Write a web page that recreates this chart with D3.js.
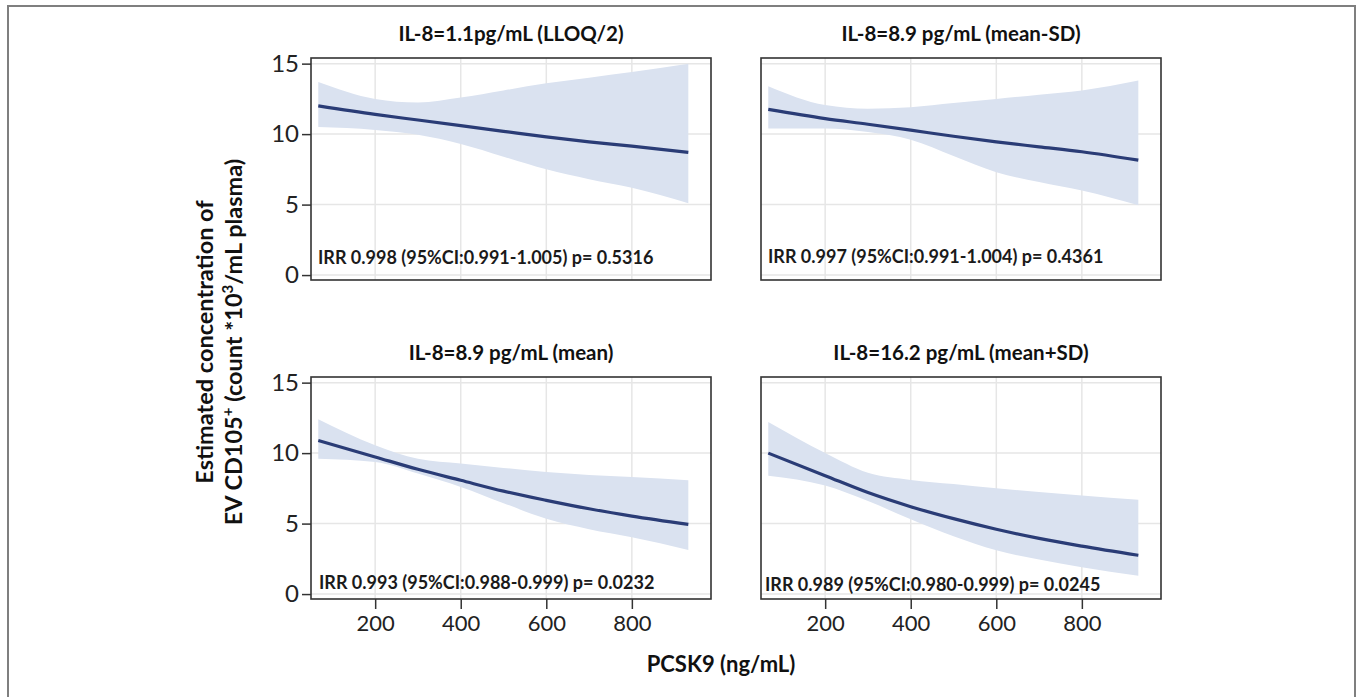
<!DOCTYPE html>
<html>
<head>
<meta charset="utf-8">
<script src="https://cdn.jsdelivr.net/npm/d3@7/dist/d3.min.js"></script>
<style>
  html, body { margin: 0; padding: 0; background: #fff; }
  svg { display: block; font-family: Lato, "Open Sans", sans-serif; }
</style>
</head>
<body>
<svg id="chart" width="1357" height="697"></svg>
<script>
// ---------------- DATA ----------------
const pcsk9 = [67, 200, 300, 400, 500, 600, 700, 800, 932];

const panelTitles = [
  "IL-8=1.1pg/mL (LLOQ/2)",
  "IL-8=8.9 pg/mL (mean-SD)",
  "IL-8=8.9 pg/mL (mean)",
  "IL-8=16.2 pg/mL (mean+SD)"
];

const estimateLLOQ   = [12.0, 11.4, 11.0, 10.6, 10.2, 9.8, 9.45, 9.15, 8.7];
const lowerLLOQ      = [10.5, 10.3, 9.95, 9.3, 8.4, 7.5, 6.8, 6.2, 5.1];
const upperLLOQ      = [13.7, 12.5, 12.25, 12.6, 13.1, 13.6, 14.0, 14.4, 15.0];

const estimateMeanMinusSD = [11.75, 11.1, 10.7, 10.28, 9.85, 9.45, 9.1, 8.75, 8.15];
const lowerMeanMinusSD    = [10.4, 10.4, 10.15, 9.6, 8.45, 7.3, 6.6, 6.0, 4.95];
const upperMeanMinusSD    = [13.4, 12.06, 11.8, 11.9, 12.2, 12.5, 12.8, 13.1, 13.8];

const estimateMean = [10.9, 9.73, 8.85, 8.07, 7.3, 6.65, 6.05, 5.53, 4.94];
const lowerMean    = [9.6, 9.37, 8.55, 7.6, 6.45, 5.34, 4.6, 4.03, 3.13];
const upperMean    = [12.4, 10.56, 9.6, 9.26, 8.95, 8.66, 8.45, 8.3, 8.07];

const estimateMeanPlusSD = [10.0, 8.4, 7.2, 6.2, 5.35, 4.6, 3.95, 3.4, 2.75];
const lowerMeanPlusSD    = [8.4, 7.7, 6.6, 5.3, 4.1, 3.1, 2.45, 1.9, 1.3];
const upperMeanPlusSD    = [12.2, 10.0, 8.6, 8.1, 7.8, 7.5, 7.25, 7.0, 6.7];

const annotations = [
  "IRR 0.998 (95%CI:0.991-1.005) p= 0.5316",
  "IRR 0.997 (95%CI:0.991-1.004) p= 0.4361",
  "IRR 0.993 (95%CI:0.988-0.999) p= 0.0232",
  "IRR 0.989 (95%CI:0.980-0.999) p= 0.0245"
];

const xTickValues = [200, 400, 600, 800];
const yTickValues = [0, 5, 10, 15];
const xAxisLabel = "PCSK9 (ng/mL)";
const yAxisLabel1 = "Estimated concentration of";
const yAxisLabel2Parts = ["EV CD105", "+", " (count *10", "3", "/mL plasma)"];

// ---------------- LAYOUT ----------------
const series = [
  {est: estimateLLOQ, lo: lowerLLOQ, hi: upperLLOQ},
  {est: estimateMeanMinusSD, lo: lowerMeanMinusSD, hi: upperMeanMinusSD},
  {est: estimateMean, lo: lowerMean, hi: upperMean},
  {est: estimateMeanPlusSD, lo: lowerMeanPlusSD, hi: upperMeanPlusSD}
];

const PW = 400, PH = 222;
const layout = [
  {left: 311, top: 58,  yAxis: true,  xAxis: false, annDx: 7, annDy: -16},
  {left: 761, top: 58,  yAxis: false, xAxis: false, annDx: 7, annDy: -17},
  {left: 311, top: 377, yAxis: true,  xAxis: true,  annDx: 8, annDy: -10},
  {left: 761, top: 377, yAxis: false, xAxis: true,  annDx: 4, annDy: -8}
];

const svg = d3.select("#chart");

// outer border
svg.append("rect")
  .attr("x", 8).attr("y", 6)
  .attr("width", 1347).attr("height", 720)
  .attr("fill", "none").attr("stroke", "#7f7f7f").attr("stroke-width", 2);

const x = d3.scaleLinear().domain([50, 985]).range([0, PW]);
const y = d3.scaleLinear().domain([-0.35, 15.4]).range([PH, 0]);

series.forEach((s, i) => {
  const L = layout[i];
  const g = svg.append("g").attr("transform", `translate(${L.left},${L.top})`);

  const clipId = "clip" + i;
  g.append("clipPath").attr("id", clipId)
    .append("rect").attr("width", PW).attr("height", PH);

  const inner = g.append("g").attr("clip-path", `url(#${clipId})`);

  // gridlines
  inner.selectAll("line.gx").data(xTickValues).join("line")
    .attr("x1", d => x(d)).attr("x2", d => x(d))
    .attr("y1", 0).attr("y2", PH)
    .attr("stroke", "#e6e6e6").attr("stroke-width", 1.5);
  inner.selectAll("line.gy").data(yTickValues).join("line")
    .attr("y1", d => y(d)).attr("y2", d => y(d))
    .attr("x1", 0).attr("x2", PW)
    .attr("stroke", "#e6e6e6").attr("stroke-width", 1.5);

  const pts = pcsk9.map((p, k) => ({x: p, est: s.est[k], lo: s.lo[k], hi: s.hi[k]}));

  const area = d3.area()
    .x(d => x(d.x)).y0(d => y(d.lo)).y1(d => y(d.hi))
    .curve(d3.curveMonotoneX);
  inner.append("path").datum(pts)
    .attr("d", area).attr("fill", "#dae2f0");

  const line = d3.line()
    .x(d => x(d.x)).y(d => y(d.est))
    .curve(d3.curveMonotoneX);
  inner.append("path").datum(pts)
    .attr("d", line).attr("fill", "none")
    .attr("stroke", "#2a3c76").attr("stroke-width", 3.2);

  // annotation
  g.append("text")
    .attr("x", L.annDx).attr("y", PH + L.annDy)
    .attr("font-size", 18).attr("font-weight", "bold").attr("fill", "#1a1a1a")
    .text(annotations[i]);

  // frame
  g.append("rect").attr("width", PW).attr("height", PH)
    .attr("fill", "none").attr("stroke", "#333").attr("stroke-width", 1.6);

  // title
  g.append("text")
    .attr("x", PW / 2).attr("y", -17)
    .attr("text-anchor", "middle")
    .attr("font-size", 20.5).attr("font-weight", "bold").attr("fill", "#111")
    .text(panelTitles[i]);

  if (L.yAxis) {
    const ya = g.append("g")
      .call(d3.axisLeft(y).tickValues(yTickValues).tickSize(9).tickPadding(3));
    ya.select(".domain").remove();
    ya.selectAll(".tick line").attr("stroke", "#333").attr("stroke-width", 1.5);
    ya.selectAll(".tick text").attr("font-size", 24).attr("fill", "#222")
      .attr("font-family", "Lato, sans-serif");
  }
  if (L.xAxis) {
    const xa = g.append("g").attr("transform", `translate(0,${PH})`)
      .call(d3.axisBottom(x).tickValues(xTickValues).tickSize(10).tickPadding(6));
    xa.select(".domain").remove();
    xa.selectAll(".tick line").attr("stroke", "#333").attr("stroke-width", 1.5);
    xa.selectAll(".tick text").attr("font-size", 22).attr("fill", "#222")
      .attr("font-family", "Lato, sans-serif");
  }
});

// x axis label
svg.append("text")
  .attr("x", 721).attr("y", 672)
  .attr("text-anchor", "middle")
  .attr("font-size", 22).attr("font-weight", "bold").attr("fill", "#111")
  .text(xAxisLabel);

// y axis label (two lines, rotated)
const yl = svg.append("g").attr("transform", "translate(0,342) rotate(-90)");
yl.append("text")
  .attr("x", 0).attr("y", 213)
  .attr("text-anchor", "middle")
  .attr("font-size", 23.5).attr("font-weight", "bold").attr("fill", "#111")
  .text(yAxisLabel1);
const t2 = yl.append("text")
  .attr("x", 0).attr("y", 242)
  .attr("text-anchor", "middle")
  .attr("font-size", 23.5).attr("font-weight", "bold").attr("fill", "#111");
yAxisLabel2Parts.forEach((p, k) => {
  const sup = (k === 1 || k === 3);
  t2.append("tspan")
    .attr("font-size", sup ? 15 : 23.5)
    .attr("dy", sup ? -9 : (k === 0 ? 0 : 9))
    .text(p);
});
</script>
</body>
</html>
